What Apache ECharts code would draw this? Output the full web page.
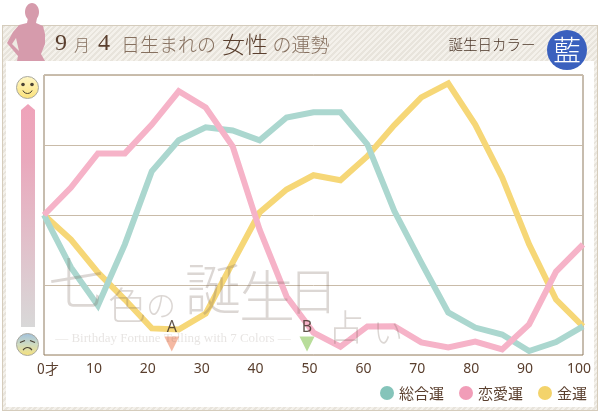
<!DOCTYPE html>
<html>
<head>
<meta charset="utf-8">
<style>
html, body { margin: 0; padding: 0; background: #fff; }
#frame { position: absolute; left: 2px; top: 25px; width: 594px; height: 384px; border: 1px solid #d5ccbc; box-sizing: content-box;
  background: repeating-linear-gradient(135deg, #e8e4dc 0 2px, #f4f1eb 2px 4px); }
#inner { position: absolute; left: 6px; top: 61px; width: 588px; height: 346px; background: #fff; }
#chart { position: absolute; left: 0; top: 0; width: 600px; height: 413px; }
</style>
</head>
<body>
<div id="frame"></div>
<div id="inner"></div>
<div id="chart"></div>
<script src="https://cdn.jsdelivr.net/npm/echarts@6/dist/echarts.min.js"></script>
<script>
//年齢 (5歳刻み)
var ages = [0, 5, 10, 15, 20, 25, 30, 35, 40, 45, 50, 55, 60, 65, 70, 75, 80, 85, 90, 95, 100];
//総合運
var sogoValues = [50, 31.3, 17.7, 39.5, 65.6, 76.7, 81.3, 80.2, 76.7, 84.8, 86.7, 86.7, 75.2, 51.4, 33, 15.2, 9.8, 7.3, 1.4, 4.6, 10.2];
//恋愛運
var renaiValues = [50, 59.8, 72, 72, 82.3, 94.2, 88.4, 74.5, 44.8, 20.9, 8, 3, 10.2, 10.3, 4.5, 2.7, 4.8, 2, 10.9, 29.8, 39.5];
//金運
var kinValues = [50, 41.2, 29.5, 19.8, 9.5, 9.1, 14.8, 33, 50.9, 59.1, 64.2, 62.4, 71, 82.1, 92, 97, 82.3, 63.4, 39.5, 19.8, 10.2];
//A,B マーカー
var markerNames = ['A', 'B'];
var markerAges = [23.7, 48.8];
var markerLevels = [3.9, 3.9];
var markerColors = ['#f2a88c', '#a6d581'];
var seriesNames = ['総合運', '恋愛運', '金運'];

var jp = '"Noto Sans CJK JP", sans-serif';
var brown = '#5a3f2e';
var pale = '#86705f';

var txt = function (s, x, y, size, color, z, family) {
    return {
        type: 'text', x: x, y: y, z: z || 5, silent: true,
        style: {
            text: s, fontSize: size, fontFamily: family || jp, fontWeight: 300,
            fill: color, align: 'center', verticalAlign: 'middle'
        }
    };
};

var graphics = [];

//タイトル
graphics.push(txt('9', 61, 44, 24, brown, 5, '"Liberation Serif"'));
graphics.push(txt('月', 82, 45, 16, pale));
graphics.push(txt('4', 104, 44, 24, brown, 5, '"Liberation Serif"'));
graphics.push(txt('日生まれの', 168.5, 45, 19, pale));
graphics.push(txt('女性', 245, 44, 23, brown));
graphics.push(txt('の運勢', 301, 45, 19, pale));
graphics.push(txt('誕生日カラー', 492, 44, 14.5, '#4a3426'));

//シルエット
graphics.push({ type: 'ellipse', z: 6, silent: true, shape: { cx: 32, cy: 12, rx: 7, ry: 9 }, style: { fill: '#d69bac' } });
graphics.push({
    type: 'polygon', z: 6, silent: true,
    shape: { points: [[28, 18], [37, 18], [36, 23], [43, 26], [45, 34], [45, 44], [41, 54], [45, 61], [17, 61], [18, 56], [7, 43], [13, 32], [19, 25], [27, 23]] },
    style: { fill: '#d69bac' }
});
graphics.push({
    type: 'polygon', z: 7, silent: true,
    shape: { points: [[16, 38], [12, 44], [19, 51]] },
    style: { fill: '#eeeae3' }
});

//誕生日カラー
graphics.push({ type: 'circle', z: 6, silent: true, shape: { cx: 567, cy: 50, r: 20 }, style: { fill: '#3a60be' } });
graphics.push(txt('藍', 567, 50, 28, '#ffffff', 7));

//左の矢印
graphics.push({
    type: 'polygon', z: 4, silent: true,
    shape: { points: [[28, 104], [35, 110], [35, 327], [21, 327], [21, 110]] },
    style: {
        fill: {
            type: 'linear', x: 0, y: 0, x2: 0, y2: 1,
            colorStops: [{ offset: 0, color: '#efa3ba' }, { offset: 0.25, color: '#eaa9bd' }, { offset: 1, color: '#d8d8d8' }]
        }
    }
});

//顔
var face = function (cy, happy) {
    var fill = happy
        ? { type: 'linear', x: 0, y: 0, x2: 0, y2: 1, colorStops: [{ offset: 0, color: '#fff7c8' }, { offset: 1, color: '#fbe27a' }] }
        : { type: 'linear', x: 0, y: 0, x2: 0, y2: 1, colorStops: [{ offset: 0, color: '#9fc0df' }, { offset: 0.5, color: '#cfdbc0' }, { offset: 1, color: '#f8e27a' }] };
    graphics.push({ type: 'circle', z: 4, silent: true, shape: { cx: 27.5, cy: cy, r: 11 }, style: { fill: fill, stroke: '#a8a8a0', lineWidth: 1 } });
    var ink = '#4a4234';
    if (happy) {
        graphics.push({ type: 'circle', z: 5, silent: true, shape: { cx: 23, cy: cy - 3, r: 1.8 }, style: { fill: ink } });
        graphics.push({ type: 'circle', z: 5, silent: true, shape: { cx: 32, cy: cy - 3, r: 1.8 }, style: { fill: ink } });
        graphics.push({ type: 'arc', z: 5, silent: true, shape: { cx: 27.5, cy: cy + 1, r: 5, startAngle: 0.4, endAngle: Math.PI - 0.4 }, style: { stroke: ink, lineWidth: 1, fill: null } });
    } else {
        graphics.push({ type: 'line', z: 5, silent: true, shape: { x1: 20, y1: cy - 2, x2: 25, y2: cy - 4 }, style: { stroke: ink, lineWidth: 1.2 } });
        graphics.push({ type: 'line', z: 5, silent: true, shape: { x1: 30, y1: cy - 4, x2: 35, y2: cy - 2 }, style: { stroke: ink, lineWidth: 1.2 } });
        graphics.push({ type: 'arc', z: 5, silent: true, shape: { cx: 27.5, cy: cy + 8, r: 5, startAngle: Math.PI + 0.5, endAngle: -0.5 }, style: { stroke: ink, lineWidth: 1.2, fill: null } });
    }
};
face(87.5, true);
face(344.5, false);

//透かし
var markColor = 'rgba(115,95,85,0.25)';
graphics.push(txt('七', 76, 283, 56, markColor, 100));
graphics.push(txt('色', 127, 305, 38, markColor, 100));
graphics.push(txt('の', 161, 305, 30, markColor, 100));
graphics.push(txt('誕', 213, 289, 56, markColor, 100));
graphics.push(txt('生', 267, 296, 56, markColor, 100));
graphics.push(txt('日', 313, 291, 50, markColor, 100));
graphics.push(txt('占', 346, 327, 36, markColor, 100));
graphics.push(txt('い', 388, 332, 30, markColor, 100));
graphics.push(txt('— Birthday Fortune Telling with 7 Colors —', 173, 339, 13, 'rgba(115,95,85,0.17)', 100, '"Liberation Serif"'));

var pairs = function (values) {
    return ages.map(function (age, i) { return [age, values[i]]; });
};

var lineSeries = function (name, values, lineColor, iconColor, z) {
    return {
        name: name, type: 'line', data: pairs(values), z: z,
        showSymbol: false, symbol: 'none', smooth: false, silent: true,
        lineStyle: { color: lineColor, width: 6, join: 'miter', cap: 'butt' },
        itemStyle: { color: iconColor }
    };
};

var chart = echarts.init(document.getElementById('chart'), null, { renderer: 'canvas' });

chart.setOption({
    animation: false,
    backgroundColor: 'transparent',
    grid: { left: 44, top: 75, width: 539, height: 280, show: true, borderColor: '#8f7a5f', borderWidth: 1, backgroundColor: 'transparent' },
    legend: {
        data: seriesNames, left: 380, top: 385.5, padding: 0, icon: 'circle',
        itemWidth: 14, itemHeight: 14, itemGap: 15,
        textStyle: { fontFamily: jp, fontSize: 15, color: brown }
    },
    xAxis: {
        type: 'value', min: 0, max: 100, interval: 10,
        splitLine: { show: false }, axisTick: { show: false }, axisLine: { show: false },
        axisLabel: {
            margin: 7, color: brown, fontFamily: '"Noto Sans"', fontSize: 14,
            padding: [0, 8, 0, 0],
            formatter: function (v) { return v === 0 ? '{a|0才}' : String(v); },
            rich: { a: { padding: [0, 0, 0, 16], color: brown, fontSize: 14, fontFamily: jp } }
        }
    },
    yAxis: {
        type: 'value', min: 0, max: 100, interval: 25,
        axisLabel: { show: false }, axisTick: { show: false }, axisLine: { show: false },
        splitLine: { lineStyle: { color: '#c9bba8', width: 1 } }
    },
    series: [
        lineSeries(seriesNames[2], kinValues, '#f6d777', '#f3d36b', 2),
        lineSeries(seriesNames[0], sogoValues, '#abd7cf', '#85c4ba', 3),
        lineSeries(seriesNames[1], renaiValues, '#f6b3c8', '#f19db8', 4),
        {
            type: 'scatter', z: 6, silent: true, symbol: 'triangle', symbolRotate: 180, symbolSize: [15, 15],
            data: markerNames.map(function (n, i) {
                return {
                    name: n, value: [markerAges[i], markerLevels[i]],
                    itemStyle: { color: markerColors[i] }
                };
            }),
            label: {
                show: true, position: 'top', distance: 1, formatter: '{b}',
                color: '#3a2a20', fontFamily: '"Noto Sans"', fontSize: 16
            }
        }
    ],
    graphic: { elements: graphics }
});
</script>
</body>
</html>
